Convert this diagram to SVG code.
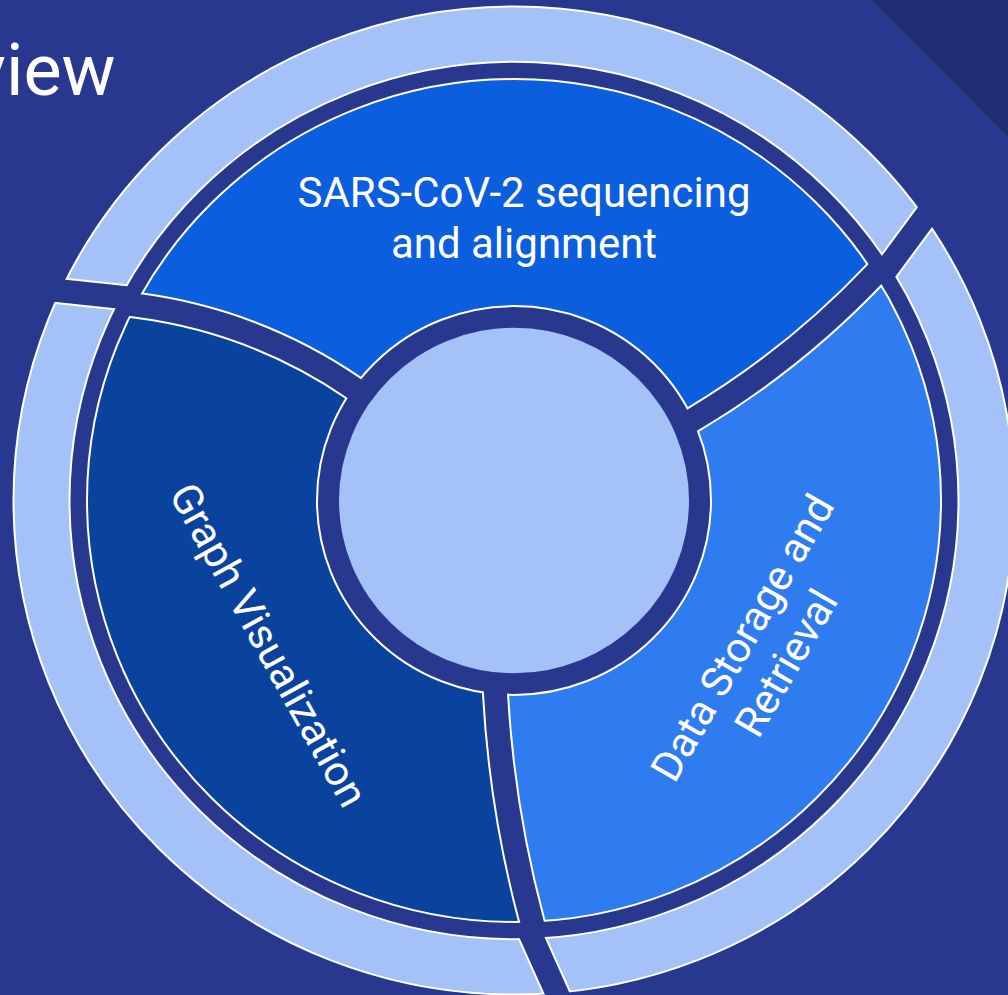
<svg xmlns="http://www.w3.org/2000/svg" width="1008" height="995" viewBox="0 0 1008 995">
<style>
.lbl{font-family:Roboto,"Liberation Sans",sans-serif;fill:#FFFFFF;font-size:42px}
.ttl{font-family:Roboto,"Liberation Sans",sans-serif;fill:#FFFFFF;font-size:72px}
.outline{fill:none;stroke:#FFFFFF;stroke-width:2}
.gapw{fill:none;stroke:#FFFFFF;stroke-width:27}
.gapd{fill:none;stroke:#29388F;stroke-width:23}
</style>
<defs>
<clipPath id="segExact"><path clip-rule="evenodd" d="M87,500.5 A427,421.4 0 1 0 941,500.5 A427,421.4 0 1 0 87,500.5 Z M317,500.5 A197,194.4 0 1 0 711,500.5 A197,194.4 0 1 0 317,500.5 Z"/></clipPath>
<clipPath id="segWide"><path clip-rule="evenodd" d="M78,500.5 A436,430.3 0 1 0 950,500.5 A436,430.3 0 1 0 78,500.5 Z M332,500.5 A182,179.6 0 1 0 696,500.5 A182,179.6 0 1 0 332,500.5 Z"/></clipPath>
<clipPath id="ringExact"><path clip-rule="evenodd" d="M13.5,500.5 A500.5,494 0 1 0 1014.5,500.5 A500.5,494 0 1 0 13.5,500.5 Z M69.5,500.5 A444.5,438.7 0 1 0 958.5,500.5 A444.5,438.7 0 1 0 69.5,500.5 Z"/></clipPath>
<clipPath id="ringWide"><path clip-rule="evenodd" d="M-16,500.5 A530,523.1 0 1 0 1044,500.5 A530,523.1 0 1 0 -16,500.5 Z M77,500.5 A437,431.3 0 1 0 951,500.5 A437,431.3 0 1 0 77,500.5 Z"/></clipPath>
<clipPath id="secSars"><path d="M514,500 L378.2,404.8 L353.4,387.9 Q254.4,320.4 135.6,305.2 L105.8,301.4 L-100,280 L-100,-100 L1100,-100 L1100,150 L895.2,253 L874.5,274.7 Q793.8,359.65 693.1,419.6 L667.3,434.9 Z"/></clipPath>
<clipPath id="secGraph"><path d="M514,500 L378.2,404.8 L353.4,387.9 Q254.4,320.4 135.6,305.2 L105.8,301.4 L-100,280 L-100,1100 L560,1100 L539.7,950.6 L531.9,921.6 Q501.9,809.75 495.5,694.1 L493.8,664.1 Z"/></clipPath>
<clipPath id="secData"><path d="M514,500 L493.8,664.1 L495.5,694.1 Q501.9,809.75 531.9,921.6 L539.7,950.6 L560,1100 L1100,1100 L1100,150 L895.2,253 L874.5,274.7 Q793.8,359.65 693.1,419.6 L667.3,434.9 Z"/></clipPath>
<path id="band" fill-rule="evenodd" d="M87,500.5 A427,421.4 0 1 0 941,500.5 A427,421.4 0 1 0 87,500.5 Z M317,500.5 A197,194.4 0 1 0 711,500.5 A197,194.4 0 1 0 317,500.5 Z"/>
<path id="segGaps" d="M493.8,664.1 L495.5,694.1 Q501.9,809.75 531.9,921.6 L539.7,950.6 M378.2,404.8 L353.4,387.9 Q254.4,320.4 135.6,305.2 L105.8,301.4 M667.3,434.9 L693.1,419.6 Q793.8,359.65 874.5,274.7 L895.2,253"/>
<path id="ringGaps" d="M524.4,920.5 L564.9,1011 M140,299.3 L40.8,288.8 M877.4,281.5 L936.3,201.8"/>
</defs>

<rect x="0" y="0" width="1008" height="995" fill="#29388F"/>
<polygon points="872,0 1008,0 1008,137" fill="#222E74"/>
<text class="ttl" x="-29" y="95">view</text>

<g id="outer-ring">
<path fill="#A4C2F7" fill-rule="evenodd" d="M13.5,500.5 A500.5,494 0 1 0 1014.5,500.5 A500.5,494 0 1 0 13.5,500.5 Z M69.5,500.5 A444.5,438.7 0 1 0 958.5,500.5 A444.5,438.7 0 1 0 69.5,500.5 Z"/>
<ellipse class="outline" cx="514" cy="500.5" rx="500.5" ry="494"/>
<ellipse class="outline" cx="514" cy="500.5" rx="444.5" ry="438.7"/>
<use href="#ringGaps" class="gapw" clip-path="url(#ringExact)"/>
<use href="#ringGaps" class="gapd" clip-path="url(#ringWide)"/>
</g>

<g id="node-sars">
<use href="#band" fill="#0B5EDD" clip-path="url(#secSars)"/>
<text class="lbl" text-anchor="middle" font-size="42.5"><tspan x="524" y="207">SARS-CoV-2 sequencing</tspan><tspan x="524" y="258">and alignment</tspan></text>
</g>

<g id="node-graph">
<use href="#band" fill="#0A439D" clip-path="url(#secGraph)"/>
<text class="lbl" text-anchor="middle" transform="translate(256,652) rotate(61)">Graph Visualization</text>
</g>

<g id="node-data">
<use href="#band" fill="#2F7BF0" clip-path="url(#secData)"/>
<text class="lbl" text-anchor="middle" transform="translate(755,645) rotate(-60)"><tspan x="0" y="0">Data Storage and</tspan><tspan x="0" y="50.4">Retrieval</tspan></text>
</g>

<g id="connectors">
<ellipse class="outline" cx="514" cy="500.5" rx="427" ry="421.4"/>
<ellipse class="outline" cx="514" cy="500.5" rx="197" ry="194.4"/>
<use href="#segGaps" class="gapw" clip-path="url(#segExact)"/>
<use href="#segGaps" class="gapd" clip-path="url(#segWide)"/>
</g>

<g id="node-center">
<ellipse cx="514" cy="500.5" rx="175" ry="172.7" fill="#A4C2F7"/>
</g>
</svg>
